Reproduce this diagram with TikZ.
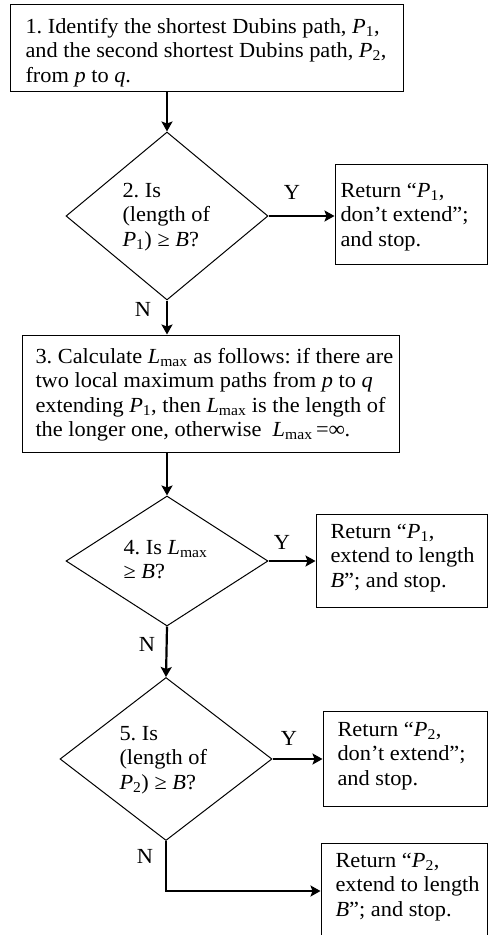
\documentclass[tikz,border=0pt]{standalone}
\usepackage{fontspec}
\setmainfont[FakeStretch=1.04]{Liberation Serif}
\usepackage{tikz}
\usetikzlibrary{arrows,arrows.meta,shapes.geometric}
\newcommand{\Psub}[1]{\textit{P}\textsubscript{#1}}
\newcommand{\Lmax}{\textit{L}\textsubscript{max}}
\frenchspacing

\begin{document}
\begin{tikzpicture}[x=1pt,y=-1pt,->,>={Stealth[length=10pt,width=11pt,inset=2pt]},line width=1pt,
  font=\fontsize{21.5}{24.5}\selectfont,
  proc node/.style={rectangle,draw},
  test node/.style={diamond,draw,inner sep=0pt},
  txt/.style={align=left,anchor=west,inner sep=0pt},
  flow/.style={line width=2.2pt},
  yn/.style={inner sep=0pt}]
  \useasboundingbox (0,0) rectangle (493,935);

  % main column
  \node[proc node,minimum width=393pt,minimum height=87pt] (s1) at (206.5,47.5) {};
  \node[txt] (s1t) at (25,52.5)
    {1. Identify the shortest Dubins path, \Psub{1},\\ and the second shortest Dubins path, \Psub{2},\\ from \textit{p} to \textit{q}.};
  \node[test node,minimum width=202pt,minimum height=168pt] (s2) at (167,216) {};
  \node[txt] (s2t) at (122,217) {2. Is\\ (length of\\ \Psub{1}) ≥ \textit{B}?};
  \node[proc node,minimum width=377pt,minimum height=117pt] (s3) at (210.5,393.5) {};
  \node[txt] (s3t) at (35,394.5)
    {3. Calculate \Lmax{} as follows: if there are\\ two local maximum paths from \textit{p} to \textit{q}\\ extending \Psub{1}, then \Lmax{} is the length of\\ the longer one, otherwise\ \ \Lmax\,=\textbf{∞}.};
  \node[test node,minimum width=202pt,minimum height=130pt] (s4) at (167,561) {};
  \node[txt] (s4t) at (123,559.5) {4. Is \Lmax\\ ≥ \textit{B}?};
  \node[test node,minimum width=212pt,minimum height=163pt] (s5) at (166,759) {};
  \node[txt] (s5t) at (119,760) {5. Is\\ (length of\\ \Psub{2}) ≥ \textit{B}?};

  % outcomes
  \node[proc node,minimum width=152pt,minimum height=100pt] (r1) at (411,214) {};
  \node[txt] (r1t) at (340,217) {Return ``\Psub{1},\\ don't extend'';\\ and stop.};
  \node[proc node,minimum width=171pt,minimum height=93pt] (r2) at (401.5,560.5) {};
  \node[txt] (r2t) at (330,558) {Return ``\Psub{1},\\ extend to length\\ \textit{B}''; and stop.};
  \node[proc node,minimum width=164pt,minimum height=95pt] (r3) at (405,758.5) {};
  \node[txt] (r3t) at (337,756) {Return ``\Psub{2},\\ don't extend'';\\ and stop.};
  \node[proc node,minimum width=166pt,minimum height=100pt] (r4) at (404,893) {};
  \node[txt] (r4t) at (335,887) {Return ``\Psub{2},\\ extend to length\\ \textit{B}''; and stop.};
  \coordinate (c5) at (166,891);

  \path[flow]
    (s1.south -| s2.north) edge (s2.north)
    (s2.east) edge (s2.east -| r1.west)
    (s2.south) edge (s2.south |- s3.north)
    (s3.south -| s4.north) edge (s4.north)
    (s4.east) edge (s4.east -| r2.west)
    (s4.south) edge (s5.north)
    (s5.east) edge (s5.east -| r3.west);
  \draw[flow] (s5.south) -- (c5) -- (c5 -| r4.west);

  \node[yn] (y2) at (292,192) {Y};
  \node[yn] (y4) at (282,542) {Y};
  \node[yn] (y5) at (289,738) {Y};
  \node[yn] (n2) at (143,309) {N};
  \node[yn] (n4) at (147,644) {N};
  \node[yn] (n5) at (145,856) {N};
\end{tikzpicture}
\end{document}
